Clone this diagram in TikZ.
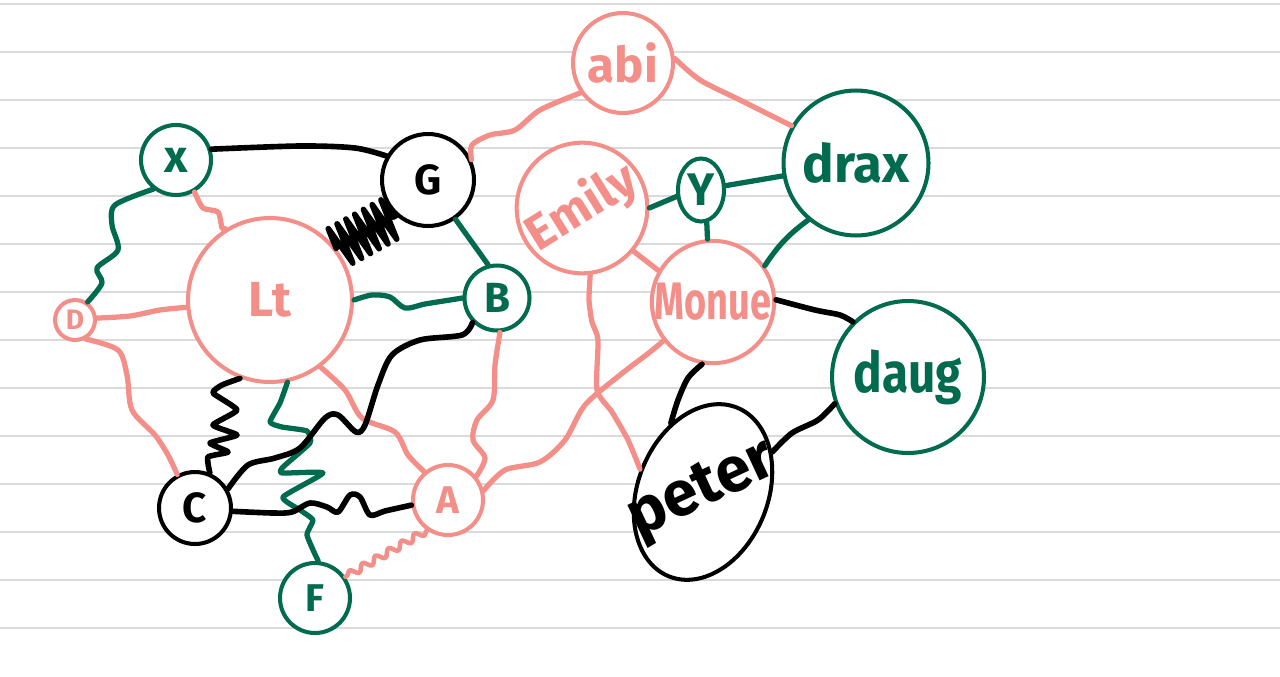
\documentclass[tikz,border=0pt]{standalone}
\usepackage{fontspec}
\setmainfont{Fira Sans}
\usetikzlibrary{shapes.geometric, decorations.pathmorphing}
\definecolor{penpink}{HTML}{F48E88}
\definecolor{pengreen}{HTML}{006B4F}
\definecolor{ruleline}{HTML}{DADADA}
\newcommand\penfont[1]{\fontsize{#1}{#1}\selectfont\bfseries}

\begin{document}
\begin{tikzpicture}[x=0.02cm, y=-0.02cm,
    person/.style={circle, draw, fill=white, line width=2.3pt, inner sep=0pt},
    pinkline/.style={penpink, line width=3pt, line cap=round, line join=round},
    greenline/.style={pengreen, line width=3pt, line cap=round, line join=round},
    blackline/.style={black, line width=3.2pt, line cap=round, line join=round}]
  \useasboundingbox (0,0) rectangle (1280,676);

  % Notebook rules
  \foreach \y in {4,52,...,628}
    \draw[ruleline, line width=1.1pt] (0,\y) -- (1280,\y);

  % Right group
  \node[person, draw=penpink, text=penpink, minimum size=2cm, font=\penfont{28}] (abi) at (623,63) {abi};
  \node[person, draw=pengreen, text=pengreen, minimum size=2.9cm, font=\penfont{30}] (drax) at (856,163) {drax};
  % rotated by 32, so its angle anchors are 32 less than on the page
  \node[person, draw=penpink, text=penpink, minimum size=2.56cm, rotate=32, font=\penfont{28}] (emily) at (582,208) {Emily};
  \node[person, ellipse, draw=pengreen, text=pengreen, minimum width=0.92cm, minimum height=1.26cm, font=\penfont{26}] (y) at (701,190) {Y};
  \node[person, draw=penpink, text=penpink, minimum size=2.44cm, font=\penfont{30}] (monue) at (713,302) {\scalebox{0.72}[1]{Monue}};
  \node[person, draw=pengreen, text=pengreen, minimum size=3.04cm, font=\penfont{32}] (daug) at (908,377) {\scalebox{0.85}[1]{daug}};
  % rotated by 68, text turned back to 25
  \node[person, ellipse, draw=black, minimum width=3.64cm, minimum height=2.6cm, rotate=68, font=\penfont{36}] (peter) at (703,492) {\rotatebox[origin=c]{-43}{\makebox[0pt]{peter}}};

  % Left group
  \node[person, draw=black, minimum size=1.84cm, font=\penfont{24}] (g) at (428,180) {G};
  \node[person, draw=pengreen, text=pengreen, minimum size=1.3cm, font=\penfont{24}] (b) at (497,298) {B};
  \node[person, draw=penpink, text=penpink, minimum size=3.28cm, font=\penfont{28}] (lt) at (270,300) {Lt};
  \node[person, draw=pengreen, text=pengreen, minimum size=1.4cm, font=\penfont{26}] (x) at (176,160) {x};
  \node[person, draw=penpink, text=penpink, minimum size=0.8cm, font=\penfont{16}] (d) at (75,320) {D};
  \node[person, draw=black, minimum size=1.44cm, font=\penfont{24}] (c) at (195,508) {C};
  \node[person, draw=penpink, text=penpink, minimum size=1.4cm, font=\penfont{22}] (a) at (448,500) {A};
  \node[person, draw=pengreen, text=pengreen, minimum size=1.4cm, font=\penfont{22}] (f) at (315,598) {F};

  % Pink links
  \draw[pinkline] plot[smooth] coordinates {(abi.215) (540,110) (515,130) (490,135) (472,145) (g.25)};
  \draw[pinkline] plot[smooth] coordinates {(abi.5) (700,80) (740,100) (780,120) (drax.150)};
  \draw[pinkline] plot[smooth, tension=0.4] coordinates {(x.-60) (203,208) (218,212) (222,228) (lt.122)};
  \draw[pinkline] plot[smooth] coordinates {(d.5) (130,316) (160,310) (lt.185)};
  \draw[pinkline] plot[smooth] coordinates {(d.-60) (118,350) (127,375) (132,410) (155,435) (168,455) (c.118)};
  \draw[pinkline] plot[smooth] coordinates {(lt.-53) (345,390) (362,418) (395,432) (408,455) (a.130)};
  \draw[pinkline] plot[smooth] coordinates {(b.-85) (495,365) (493,400) (477,420) (473,440) (485,458) (a.40)};
  \draw[pinkline, line width=2.6pt, decorate, decoration={snake, segment length=0.3cm, amplitude=0.07cm}] (a.235) -- (f.35);
  \draw[pinkline] plot[smooth] coordinates {(a.15) (505,470) (540,462) (565,440) (585,405) (620,375) (650,352) (monue.218)};
  \draw[pinkline] plot[smooth, tension=0.4] coordinates {(emily.-115) (589,300) (592,322) (598,340) (597,390) (612,412) (628,440) (peter.92)};
  \draw[pinkline] (emily.-72) -- (monue.150);

  % Green links
  \draw[greenline] plot[smooth] coordinates {(x.232) (115,205) (112,225) (118,250) (97,268) (102,283) (d.55)};
  \draw[greenline] (g.-55) -- (b.105);
  \draw[greenline] plot[smooth] coordinates {(lt.0) (372,295) (390,297) (405,308) (425,304) (450,300) (b.180)};
  \draw[greenline] plot[smooth, tension=0.3] coordinates {(lt.-78) (280,403) (270,422) (282,427) (307,431) (310,443) (283,467) (282,473) (323,473) (283,497) (300,510) (313,520) (307,535) (f.85)};
  \draw[greenline] (emily.-32) -- (y.195);
  \draw[greenline] (y.10) -- (drax.190);
  \draw[greenline] (y.-80) -- (monue.95);
  \draw[greenline] (drax.230) to[bend right=10] (monue.35);

  % Black links
  \draw[blackline] plot[smooth] coordinates {(x.17) (300,146) (355,148) (g.150)};
  \draw[blackline, decorate, decoration={zigzag, segment length=0.2cm, amplitude=0.42cm}] (lt.38) -- (g.228);
  \draw[blackline] plot[smooth] coordinates {(b.225) (462,335) (420,340) (392,355) (378,385) (365,425) (356,432) (338,415) (325,418) (300,448) (275,458) (248,465) (c.30)};
  \draw[blackline] plot[smooth] coordinates {(c.-5) (273,513) (292,512) (310,503) (327,507) (338,512) (350,495) (360,497) (370,515) (385,511) (a.188)};
  \draw[blackline] plot[smooth, tension=0.3] coordinates {(c.67) (208,457) (228,452) (210,443) (237,435) (213,425) (237,410) (213,393) (222,385) (lt.249)};
  \draw[blackline] plot[smooth] coordinates {(monue.2) (815,310) (840,315) (daug.135)};
  \draw[blackline] plot[smooth] coordinates {(monue.-100) (688,378) (678,400) (peter.47)};
  \draw[blackline] plot[smooth] coordinates {(peter.-38) (792,433) (818,420) (daug.200)};
\end{tikzpicture}
\end{document}
